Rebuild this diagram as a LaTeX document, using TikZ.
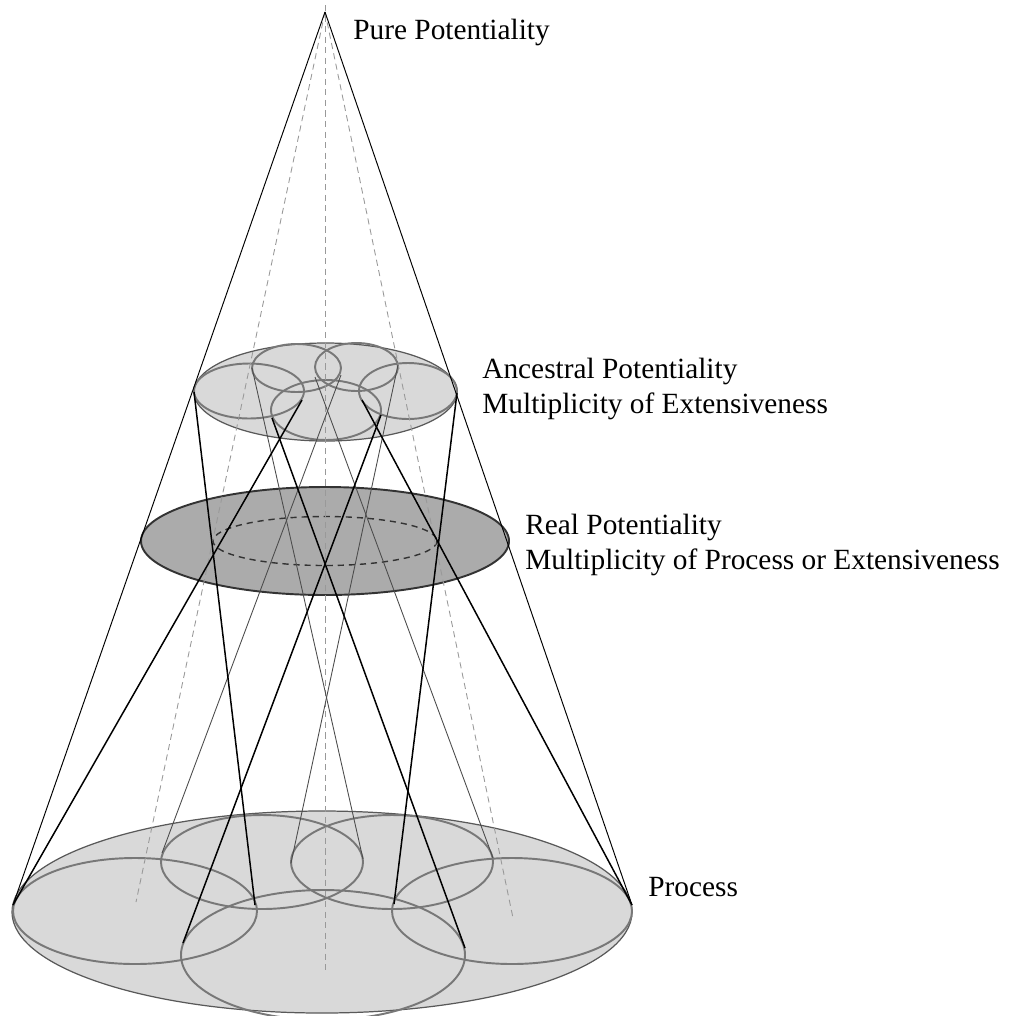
\documentclass[tikz,border=0pt]{standalone}
\usepackage{fontspec}
\setmainfont{Liberation Serif}

\begin{document}
\begin{tikzpicture}
  [x=0.02cm, y=-0.02cm,
   disc/.style = {draw=black!65, line width=0.7pt, fill=black!15},
   realdisc/.style = {draw=black!80, line width=1.1pt, fill=black!33},
   cell/.style = {draw=black!53, line width=1.1pt},
   rim/.style = {black, line width=0.55pt},
   ray/.style = {black, line width=0.85pt},
   faintray/.style = {black!70, line width=0.5pt},
   axisline/.style = {black!40, line width=0.5pt, dash pattern=on 3.5pt off 2.5pt},
   label/.style = {anchor=base west, inner sep=0pt, align=left,
                   font=\fontsize{16.7}{19.8}\selectfont}]

\useasboundingbox (0,0) rectangle (1017,1015);

% Points
\coordinate (apex) at (325,12);
\coordinate (top) at (325,5);
\coordinate (left) at (13,905);
\coordinate (right) at (632,905);

% Process disc
\draw[disc] (322,912) ellipse [x radius=310, y radius=101];
\draw[cell] (135,911) ellipse [x radius=122, y radius=53];
\draw[cell] (262,862) ellipse [x radius=101, y radius=47];
\draw[cell] (392,862) ellipse [x radius=101, y radius=47];
\draw[cell] (512,911) ellipse [x radius=120, y radius=53];
\draw[cell] (323,955) ellipse [x radius=142, y radius=65];

% Ancestral disc
\draw[disc] (325.5,392) ellipse [x radius=131.5, y radius=49];
\draw[cell] (249,391) ellipse [x radius=55, y radius=27.5];
\draw[cell] (296.5,368) ellipse [x radius=44.5, y radius=24];
\draw[cell] (356.5,367) ellipse [x radius=41.5, y radius=24];
\draw[cell] (408,391) ellipse [x radius=49, y radius=28];
\draw[cell] (326,410) ellipse [x radius=55, y radius=30];

% Real disc
\draw[realdisc] (325,541) ellipse [x radius=184, y radius=54];
\draw[black!80, line width=0.8pt, dash pattern=on 3.5pt off 2.8pt]
  (325,541) ellipse [x radius=112, y radius=24.5];

% Axes
\draw[axisline] (top) -- (325,970);
\draw[axisline] (apex) -- (136,902);
\draw[axisline] (apex) -- (513,918);

% Cone
\draw[rim] (apex) -- (left);
\draw[rim] (apex) -- (right);

% Crossing rays, back cells
\coordinate (ul1) at (252,368);  \coordinate (ul2) at (363,859);
\coordinate (ul3) at (341,375);  \coordinate (ul4) at (162,853);
\coordinate (ur1) at (315,377);  \coordinate (ur2) at (493,858);
\coordinate (ur3) at (398,365);  \coordinate (ur4) at (291,863);
\draw[faintray] (ul1) -- (ul2);
\draw[faintray] (ul3) -- (ul4);
\draw[faintray] (ur1) -- (ur2);
\draw[faintray] (ur3) -- (ur4);

% Crossing rays, front cells
\coordinate (l1) at (194,392);  \coordinate (l2) at (255,905);
\coordinate (l3) at (302,400);
\coordinate (b1) at (272,418);  \coordinate (b2) at (465,948);
\coordinate (b3) at (381,415);  \coordinate (b4) at (183,943);
\coordinate (r1) at (362,400);
\coordinate (r3) at (457,393);  \coordinate (r4) at (394,904);
\draw[ray] (l1) -- (l2);
\draw[ray] (l3) -- (left);
\draw[ray] (b1) -- (b2);
\draw[ray] (b3) -- (b4);
\draw[ray] (r1) -- (right);
\draw[ray] (r3) -- (r4);

% Labels
\node[label] (pure) at (353,39) {Pure Potentiality};
\node[label] (ancestral) at (482,413) {Ancestral Potentiality\\Multiplicity of Extensiveness};
\node[label] (real) at (525,569) {Real Potentiality\\Multiplicity of Process or Extensiveness};
\node[label] (process) at (648,896) {Process};

\end{tikzpicture}
\end{document}
